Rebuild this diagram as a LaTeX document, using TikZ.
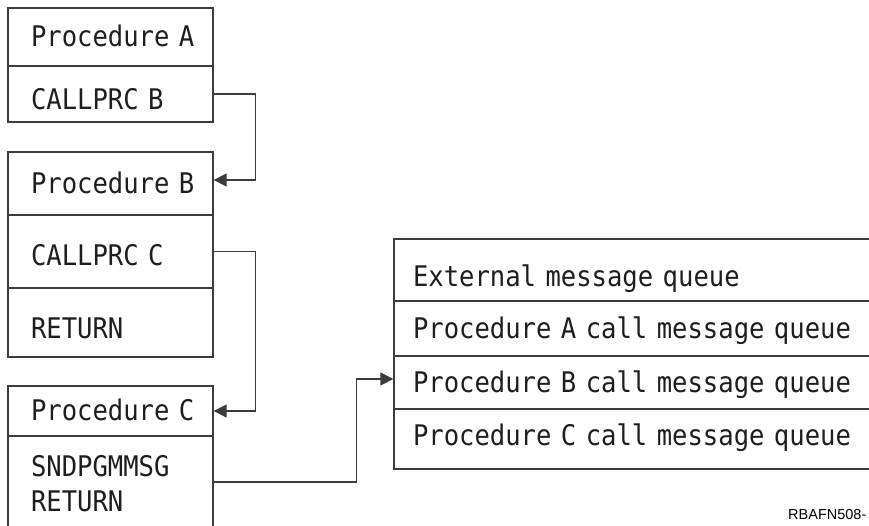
\documentclass[tikz,border=0pt]{standalone}
\usepackage{fontspec}
\setmonofont{DejaVu Sans Mono}[FakeStretch=0.9]
\newfontfamily\labelfont{Liberation Sans}
\usetikzlibrary{arrows.meta}
\definecolor{ln}{RGB}{60,60,60}
\definecolor{tx}{RGB}{30,30,30}
\begin{document}
\begin{tikzpicture}[x=1pt,y=-1pt,
  cell/.style={draw=ln, line width=1.3pt, rectangle, inner xsep=23pt, inner ysep=0pt,
    text width=159pt, align=left, text height=19pt, text depth=0pt,
    font=\ttfamily\fontsize{28.4}{35}\selectfont, text=tx},
  qcell/.style={cell, inner xsep=19pt, text width=462pt},
  low/.style={text height=#1, text depth=0pt},
  conn/.style={draw=ln, line width=1.3pt},
  tip/.style={-{Triangle[length=13pt,width=13pt]}}
]
\useasboundingbox (0,0) rectangle (869,525);
\clip (0,0) rectangle (869,525);

% Procedure A
\node[cell, minimum height=58pt] (ah) at (110.5,37) {Procedure~A};
\node[cell, minimum height=56pt, low=31pt] (ab) at (110.5,94) {CALLPRC~B};

% Procedure B
\node[cell, minimum height=63pt] (bh) at (110.5,183.5) {Procedure~B};
\node[cell, minimum height=73pt, low=28pt] (bc) at (110.5,251.5) {CALLPRC~C};
\node[cell, minimum height=69pt, low=32pt] (br) at (110.5,322.5) {RETURN};

% Procedure C
\node[cell, minimum height=50pt] (ch) at (110.5,411) {Procedure~C};
\node[cell, minimum height=97pt, text depth=35pt] (cb) at (110.5,484.5) {SNDPGMMSG\\RETURN};

% Message queues
\node[qcell, minimum height=62pt, low=33pt] (qe) at (644,270) {External message queue};
\node[qcell, minimum height=55pt] (qa) at (644,328.5) {Procedure A call message queue};
\node[qcell, minimum height=53pt] (qb) at (644,382.5) {Procedure B call message queue};
\node[qcell, minimum height=60pt, text depth=6pt] (qc) at (644,439) {Procedure C call message queue};

% Connectors
\draw[conn,tip] (ab.east) -- ++(42,0) |- ([yshift=3.5pt]bh.east);
\draw[conn,tip] (bc.east) -- ++(42,0) |- (ch.east);
\draw[conn,tip] ([yshift=2.5pt]cb.east) -- ++(143,0) |- ([yshift=3.5pt]qb.west);

% Figure id
\node[font=\labelfont\fontsize{14.5}{17}\selectfont, text=black, anchor=base west, inner sep=0pt] (fig) at (788,519) {RBAFN508-};
\end{tikzpicture}
\end{document}
